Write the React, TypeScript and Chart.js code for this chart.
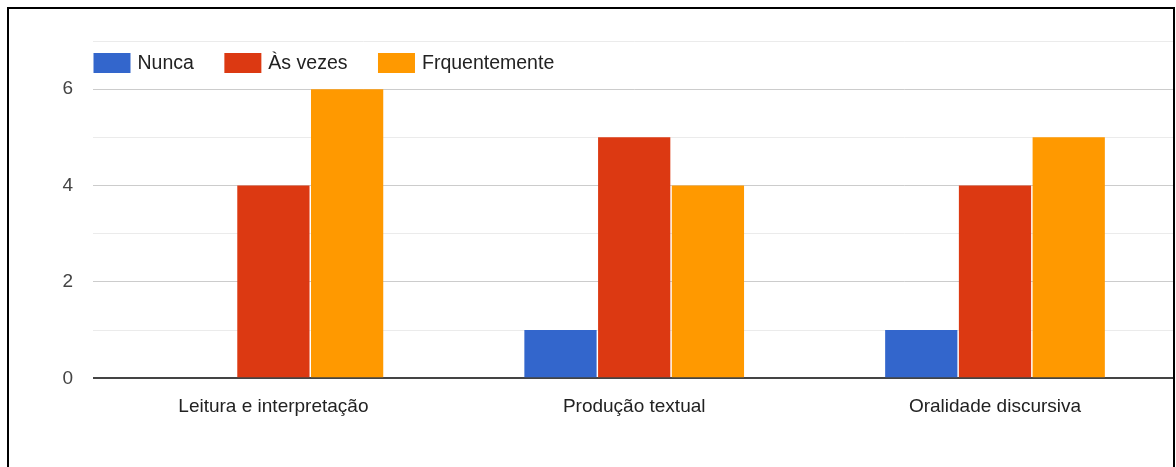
import React, { useEffect, useRef } from "react";
import { Chart, registerables } from "chart.js";

Chart.register(...registerables);

const categories = ["Leitura e interpretação", "Produção textual", "Oralidade discursiva"];
const seriesNames = ["Nunca", "Às vezes", "Frquentemente"];
const nunca = [0, 1, 1];
const asVezes = [4, 5, 4];
const frequentemente = [6, 4, 5];
const seriesColors = ["#3366cc", "#dc3912", "#ff9900"];
const yMin = 0;
const yMax = 7;

const FONT = '"Liberation Sans", Arial, sans-serif';

const legendPlugin = {
  id: "customLegend",
  afterDraw(chart: any) {
    const ctx = chart.ctx;
    ctx.save();
    ctx.font = `19.5px ${FONT}`;
    ctx.textBaseline = "middle";
    ctx.textAlign = "left";
    let x = chart.chartArea.left + 0.5;
    const cy = chart.chartArea.top + 22;
    chart.data.datasets.forEach((ds: any) => {
      ctx.fillStyle = ds.backgroundColor;
      ctx.fillRect(x, cy - 10, 37, 20);
      ctx.fillStyle = "#222";
      const tx = x + 37 + 7;
      ctx.fillText(ds.label, tx, cy + 1);
      x = tx + ctx.measureText(ds.label).width + 30.5;
    });
    ctx.restore();
  },
};

export default function App() {
  const ref = useRef<HTMLCanvasElement | null>(null);

  useEffect(() => {
    if (!ref.current) return;
    const values = [nunca, asVezes, frequentemente];
    const chart = new Chart(ref.current, {
      type: "bar",
      data: {
        labels: categories,
        datasets: seriesNames.map((name, i) => ({
          label: name,
          data: values[i],
          backgroundColor: seriesColors[i],
          borderWidth: 0,
          categoryPercentage: 0.613,
          barPercentage: 0.98,
        })),
      },
      options: {
        responsive: false,
        animation: false,
        devicePixelRatio: 1,
        layout: { padding: { top: 32, right: 3.6, left: 0, bottom: 0 } },
        plugins: {
          legend: { display: false },
          tooltip: { enabled: false },
        },
        scales: {
          x: {
            grid: { display: false },
            border: { display: false },
            ticks: {
              color: "#222",
              font: { family: FONT, size: 19 },
              padding: 9,
              maxRotation: 0,
            },
            afterFit: (s: any) => {
              s.height = 90.7;
            },
          },
          y: {
            min: yMin,
            max: yMax,
            border: { display: false },
            grid: {
              drawTicks: false,
              color: (c: any) => {
                const v = c.tick ? c.tick.value : 0;
                if (v === 0) return "#444";
                return v % 2 === 0 ? "#cccccc" : "#ebebeb";
              },
              lineWidth: (c: any) => (c.tick && c.tick.value === 0 ? 2 : 1),
            },
            ticks: {
              stepSize: 1,
              color: "#444",
              font: { family: FONT, size: 19 },
              padding: 20,
              callback: (v: any) => (Number(v) % 2 === 0 ? String(v) : ""),
            },
            afterFit: (s: any) => {
              s.width = 84;
            },
          },
        },
      },
      plugins: [legendPlugin],
    });
    return () => chart.destroy();
  }, []);

  return (
    <div
      style={{
        position: "fixed",
        left: 7,
        top: 7,
        width: 1168,
        height: 470,
        border: "2px solid #000",
        boxSizing: "border-box",
        overflow: "hidden",
        background: "#fff",
      }}
    >
      <canvas ref={ref} width={1170} height={460} style={{ display: "block" }} />
    </div>
  );
}
